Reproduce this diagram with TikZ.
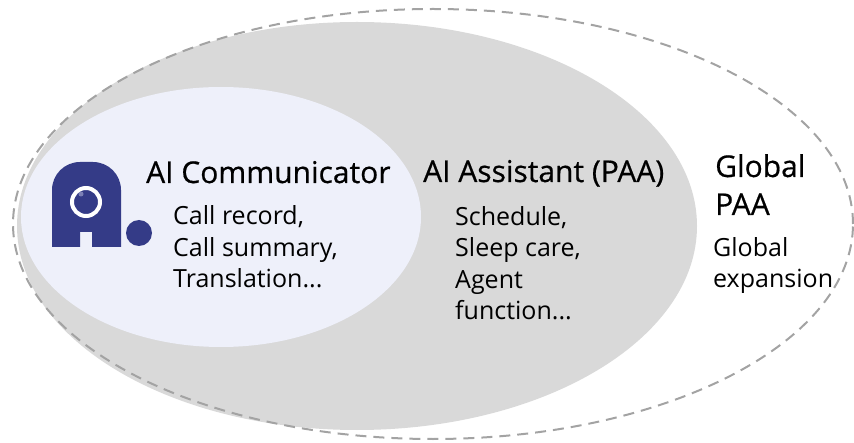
\documentclass[tikz,border=0pt]{standalone}
\usepackage{fontspec}
\setmainfont{Open Sans}
\newfontfamily\headfont[FakeBold=0.6]{Open Sans}
\usetikzlibrary{positioning}

\definecolor{ringgray}{HTML}{A3A3A3}
\definecolor{paagray}{HTML}{D9D9D9}
\definecolor{commblue}{HTML}{EEF0FA}
\definecolor{logoblue}{HTML}{343B87}
\definecolor{logolight}{HTML}{7B80B5}

\begin{document}
\begin{tikzpicture}[x=1pt,y=1pt,
    title/.style={font=\headfont\fontsize{30}{38}\selectfont, inner sep=0pt, anchor=base west, align=left},
    body/.style={font=\fontsize{25}{31.6}\selectfont, inner sep=0pt, anchor=base west, align=left}]
        \useasboundingbox (0,0) rectangle (854,442);

        \fill[paagray] (357,216) ellipse [x radius=340, y radius=204];
        \draw[ringgray, line width=2pt, dash pattern=on 11pt off 7pt] (433,218) ellipse [x radius=420, y radius=215];
        \fill[commblue] (221,225) ellipse [x radius=200, y radius=130];

        % logo
        \fill[logoblue] (52,195) -- (52,252) arc[start angle=180, end angle=90, radius=28] -- (93,280)
            arc[start angle=90, end angle=0, radius=28] -- (121,195) -- (92,195) -- (92,210) -- (80,210) -- (80,195) -- cycle;
        \draw[white, line width=4pt] (86,240) circle(14);
        \fill[logolight] (81,248) circle(2.5);
        \fill[logoblue] (139,209) circle(13);

        % last line of a node sits on its base
        \node[title] (comm) at (146,259) {AI Communicator};
        \node[body] (commtxt) at (173,154) {Call record,\\Call summary,\\Translation...};
        \node[title] (paa) at (423,260) {AI Assistant (PAA)};
        \node[body] (paatxt) at (455,122) {Schedule,\\Sleep care,\\Agent\\function...};
        \node[title] (glob) at (715,227) {Global\\PAA};
        \node[body] (globtxt) at (713,154) {Global\\expansion};
    \end{tikzpicture}
\end{document}
